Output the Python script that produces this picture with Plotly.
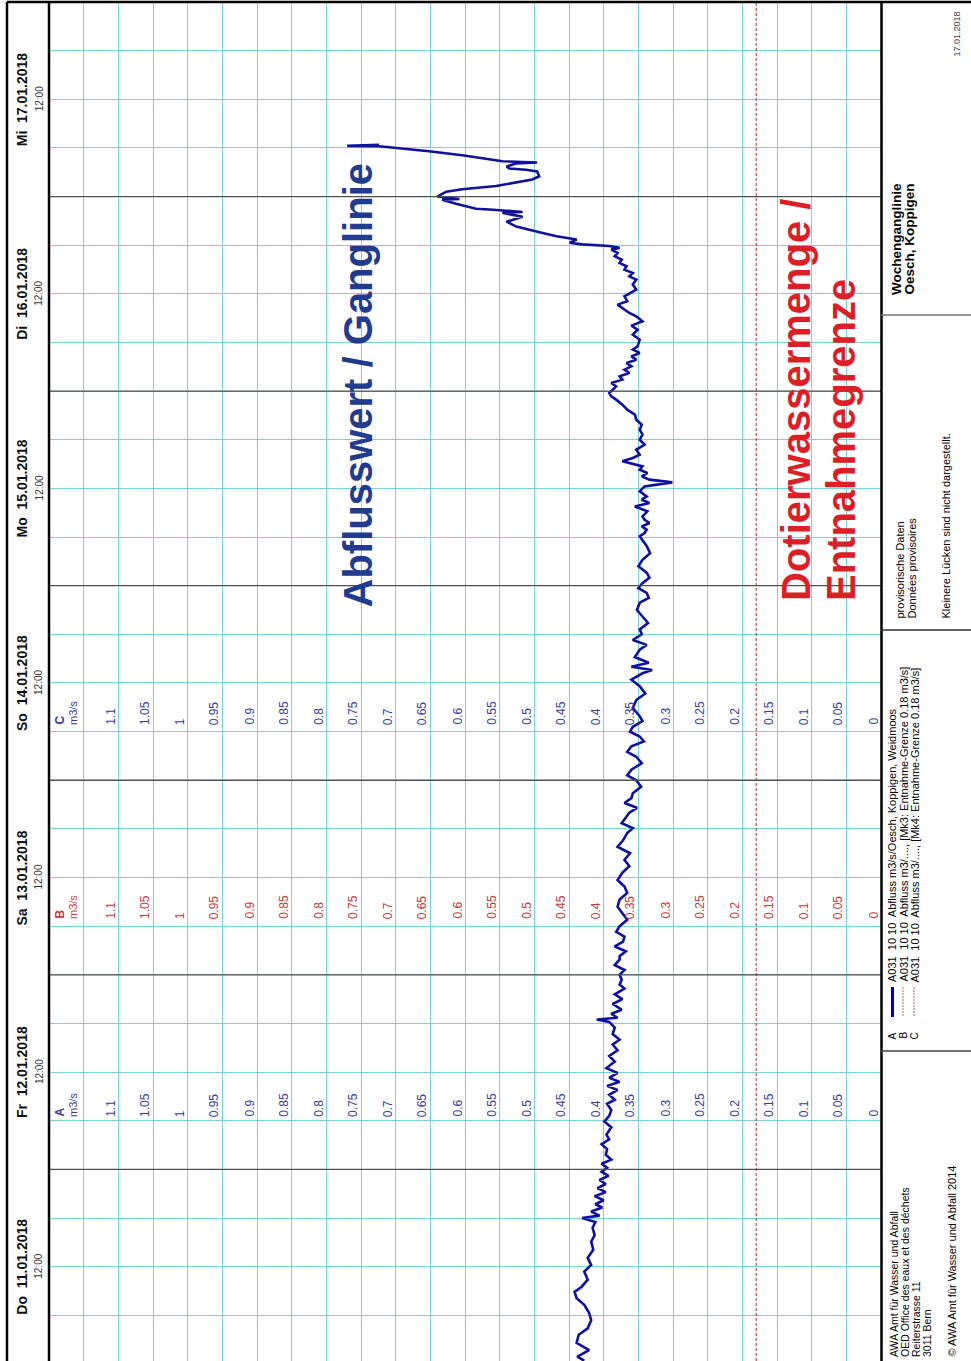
import pandas as pd
import plotly.graph_objects as go

# ---------------- data ----------------
START = pd.Timestamp("2018-01-11 00:00")

# hours since 11.01.2018 00:00
hours_since_start = [
    0.4, 0.9, 1.7, 2.6, 3.6, 4.4, 5.4, 6.3, 7.3, 8.1, 8.9, 9.5, 10.4, 11.4, 12.2, 13.1,
    14.1, 15.1, 15.9, 16.8, 17.5, 18.0, 18.3, 18.8, 19.3, 19.7, 20.2, 20.7, 21.2, 21.7,
    22.2, 22.7, 23.2, 23.7, 24.2, 24.7, 25.2, 25.8, 26.5, 27.1, 27.7, 28.3, 29.2, 29.9,
    30.6, 31.3, 32.1, 32.6, 33.2, 33.8, 34.3, 34.8, 35.3, 35.9, 36.5, 37.3, 38.0, 38.7,
    39.4, 40.0, 40.7, 41.5, 42.2, 42.5, 42.7, 43.2, 43.7, 44.4, 45.0, 45.6, 46.3, 46.8,
    47.4, 48.0,
    48.6, 49.2, 49.9, 50.3, 50.9, 51.5, 52.1, 52.7, 53.3, 54.0, 54.8, 55.6, 56.4, 57.3,
    58.1, 58.9, 59.7, 60.6, 61.4, 62.2, 63.0, 63.8, 64.6, 65.5, 66.1, 66.7, 67.3, 68.0,
    68.6, 69.2, 69.8, 70.4, 71.2, 72.0, 72.6, 73.3, 74.1, 74.9, 75.5, 76.2, 76.8, 77.4,
    78.0, 78.6, 79.3, 79.9, 80.9, 81.9, 82.7, 83.6, 84.4, 85.2, 85.6, 86.0, 86.5, 87.2,
    88.1, 88.7, 89.3, 90.0, 90.6, 91.4, 92.2, 93.0, 93.9, 94.5, 95.1, 95.7, 96.3, 97.0,
    97.6, 98.4, 99.2, 100.0, 100.9,
    102.08, 102.50, 102.91, 103.31, 103.73, 104.14, 104.55, 105.17, 105.78, 106.20,
    106.61, 107.02, 107.63, 108.25, 108.75, 109.08, 109.49, 109.91, 110.31, 110.72,
    111.34, 111.76, 112.16, 112.78, 113.40, 114.01, 114.63, 115.25, 115.86, 116.48,
    117.10, 117.72, 118.33, 118.95, 119.36, 119.77,
    120.59, 121.00, 121.42, 121.83, 122.24, 122.65, 123.06, 123.48, 123.88, 124.29,
    124.71, 125.12, 125.53, 126.35, 126.97, 127.58, 128.08, 128.61, 129.23, 129.64,
    130.26, 130.67, 131.08, 131.70, 132.52, 133.14, 133.76, 134.16, 134.58, 134.99,
    135.40, 135.81, 136.22, 136.63, 137.05, 137.46, 137.67,
    137.9, 138.1, 138.3, 138.7, 139.1, 139.5, 139.9, 140.3, 140.9, 141.5, 142.0, 142.1,
    142.4, 142.5, 143.1, 143.6, 143.7, 144.0, 144.6, 144.9, 145.3, 145.7, 146.1, 146.5,
    147.1, 147.3, 147.45, 147.7, 148.1, 148.2, 148.35, 149.1, 149.6, 150.2, 150.25, 150.4,
]

# discharge A031 Oesch, Koppigen [m3/s]
flow_m3s = [
    0.428, 0.438, 0.421, 0.439, 0.436, 0.423, 0.418, 0.421, 0.428, 0.439, 0.442, 0.432,
    0.423, 0.428, 0.418, 0.423, 0.415, 0.418, 0.413, 0.416, 0.412, 0.431, 0.406, 0.418,
    0.402, 0.412, 0.400, 0.413, 0.397, 0.409, 0.397, 0.406, 0.393, 0.403, 0.395, 0.403,
    0.389, 0.397, 0.395, 0.403, 0.392, 0.396, 0.389, 0.399, 0.392, 0.389, 0.395, 0.384,
    0.392, 0.380, 0.395, 0.377, 0.392, 0.380, 0.396, 0.384, 0.392, 0.380, 0.387, 0.377,
    0.387, 0.384, 0.392, 0.410, 0.380, 0.389, 0.374, 0.387, 0.373, 0.384, 0.370, 0.377,
    0.374, 0.377,
    0.370, 0.384, 0.377, 0.377, 0.368, 0.384, 0.372, 0.370, 0.382, 0.377, 0.366, 0.373,
    0.380, 0.377, 0.366, 0.370, 0.380, 0.373, 0.363, 0.370, 0.362, 0.380, 0.372, 0.366,
    0.358, 0.374, 0.369, 0.363, 0.352, 0.370, 0.360, 0.358, 0.346, 0.353, 0.366, 0.360,
    0.345, 0.353, 0.366, 0.360, 0.342, 0.348, 0.362, 0.358, 0.344, 0.348, 0.358, 0.353,
    0.340, 0.348, 0.360, 0.344, 0.330, 0.360, 0.335, 0.355, 0.348, 0.338, 0.358, 0.345,
    0.348, 0.336, 0.344, 0.352, 0.348, 0.335, 0.338, 0.350, 0.344, 0.334, 0.338, 0.350,
    0.344, 0.333, 0.338,
    0.348, 0.341, 0.338, 0.345, 0.334, 0.341, 0.344, 0.337, 0.355, 0.334,
    0.345, 0.338, 0.348, 0.341, 0.301, 0.334, 0.345, 0.337, 0.348, 0.344,
    0.373, 0.358, 0.348, 0.353, 0.341, 0.348, 0.344, 0.348, 0.345, 0.353,
    0.355, 0.366, 0.373, 0.382, 0.389, 0.392,
    0.382, 0.389, 0.373, 0.377, 0.363, 0.370, 0.360, 0.367, 0.353, 0.360,
    0.348, 0.358, 0.351, 0.348, 0.358, 0.351, 0.360, 0.344, 0.353, 0.363,
    0.374, 0.380, 0.366, 0.370, 0.353, 0.358, 0.353, 0.363, 0.358, 0.370,
    0.367, 0.377, 0.374, 0.384, 0.380, 0.389, 0.377,
    0.392, 0.431, 0.449, 0.439, 0.468, 0.488, 0.507, 0.526, 0.540, 0.517, 0.546, 0.517,
    0.565, 0.584, 0.613, 0.633, 0.608, 0.640, 0.627, 0.604, 0.555, 0.526, 0.503, 0.493,
    0.496, 0.512, 0.536, 0.540, 0.526, 0.496, 0.546, 0.604, 0.652, 0.724, 0.770, 0.724,
]

limit_value = 0.18  # Entnahme-Grenze [m3/s]

day_names = ["Do", "Fr", "Sa", "So", "Mo", "Di", "Mi"]
day_dates = ["11.01.2018", "12.01.2018", "13.01.2018", "14.01.2018",
             "15.01.2018", "16.01.2018", "17.01.2018"]

tick_values = [0, 0.05, 0.1, 0.15, 0.2, 0.25, 0.3, 0.35, 0.4, 0.45, 0.5, 0.55,
               0.6, 0.65, 0.7, 0.75, 0.8, 0.85, 0.9, 0.95, 1.0, 1.05, 1.1]
tick_labels = ["0", "0.05", "0.1", "0.15", "0.2", "0.25", "0.3", "0.35", "0.4", "0.45",
               "0.5", "0.55", "0.6", "0.65", "0.7", "0.75", "0.8", "0.85", "0.9", "0.95",
               "1", "1.05", "1.1"]

scale_columns = ["A", "B", "C"]

# ---------------- layout helpers ----------------
W, H = 971, 1361
PL, PR, PT, PB = 49, 881, 2, 1361
FONT = "Liberation Sans, Arial, sans-serif"


def px(x):
    return (x - PL) / (PR - PL)


def py(y):
    return (PB - y) / (PB - PT)


times = START + pd.to_timedelta(hours_since_start, unit="h")
t_lo = START + pd.Timedelta(minutes=22)
t_hi = START + pd.Timedelta(days=7)

fig = go.Figure()

fig.add_trace(go.Scatter(
    x=[limit_value, limit_value], y=[t_lo, t_hi], mode="lines",
    line=dict(color="#b02828", width=1, dash="3px,2px"), hoverinfo="skip"))

fig.add_trace(go.Scatter(
    x=flow_m3s, y=times, mode="lines",
    line=dict(color="#1010a0", width=2.6),
    name="A"))

grid_col = "#78d4d4"
fig.update_layout(
    width=W, height=H,
    margin=dict(l=PL, r=W - PR, t=PT, b=H - PB, autoexpand=False),
    paper_bgcolor="white", plot_bgcolor="white",
    showlegend=False,
    font=dict(family=FONT),
    xaxis=dict(range=[1.2, 0], tick0=0, dtick=0.05, showgrid=True,
               gridcolor=grid_col, gridwidth=1.4, zeroline=False,
               showticklabels=False, ticks="", showline=False),
    yaxis=dict(type="date", range=[t_lo, t_hi], tick0=START, dtick=6 * 3600 * 1000,
               showgrid=True, gridcolor=grid_col, gridwidth=1.4, zeroline=False,
               showticklabels=False, ticks="", showline=False),
)

shapes = []
# day boundaries
for d in range(1, 7):
    t = START + pd.Timedelta(days=d)
    shapes.append(dict(type="line", xref="paper", yref="y", x0=0, x1=1, y0=t, y1=t,
                       line=dict(color="#505050", width=1.3), layer="above"))


def hline(y, x0, x1, color="black", w=2):
    shapes.append(dict(type="line", xref="paper", yref="paper", x0=px(x0), x1=px(x1),
                       y0=py(y), y1=py(y), line=dict(color=color, width=w)))


def vline(x, y0, y1, color="black", w=2):
    shapes.append(dict(type="line", xref="paper", yref="paper", x0=px(x), x1=px(x),
                       y0=py(y0), y1=py(y1), line=dict(color=color, width=w)))


hline(2, 7, 971, w=2.5)
vline(7, 2, 1361, w=2.5)
vline(49, 2, 1361, w=2.5)
vline(881.5, 2, 1361, w=2.5)
hline(315, 881, 971, color="#707070", w=1.5)
hline(630, 881, 971, color="#303030", w=1.5)
hline(1051, 881, 971, color="#404040", w=1.5)
# legend symbols
vline(892.5, 987, 1017, color="#0000c0", w=3)
shapes.append(dict(type="line", xref="paper", yref="paper", x0=px(903), x1=px(903),
                   y0=py(987), y1=py(1017), line=dict(color="#c87050", width=1, dash="2px,1px")))
shapes.append(dict(type="line", xref="paper", yref="paper", x0=px(914), x1=px(914),
                   y0=py(987), y1=py(1017), line=dict(color="#a06060", width=1, dash="2px,1px")))

annotations = []


def txt(text, x, y, size, color="black", bold=False, xanchor="center", yanchor="bottom",
        angle=-90):
    annotations.append(dict(
        text=text, xref="paper", yref="paper", x=px(x), y=py(y), showarrow=False,
        textangle=angle, xanchor=xanchor, yanchor=yanchor,
        font=dict(size=size, color=color, family=FONT, weight="bold" if bold else "normal"),
        borderpad=0))


# date labels on the left
for i, (dn, dd) in enumerate(zip(day_names, day_dates)):
    t = START + pd.Timedelta(days=i, hours=12)
    annotations.append(dict(text=dn + "\u00a0 " + dd, xref="paper", yref="y", x=px(22), y=t,
                            showarrow=False, textangle=-90, xanchor="center", yanchor="middle",
                            font=dict(size=14, color="#111", family=FONT, weight="bold")))
    annotations.append(dict(text="12:00", xref="paper", yref="y", x=px(39), y=t,
                            showarrow=False, textangle=-90, xanchor="center", yanchor="middle",
                            font=dict(size=10, color="#333", family=FONT)))

# value scales A, B, C
col_bottom = {"A": 1118, "B": 920, "C": 726}
col_color = {"A": "#3a3a98", "B": "#c83838", "C": "#3a3a98"}
for c in scale_columns:
    yb = col_bottom[c]
    for v, lab in zip(tick_values, tick_labels):
        annotations.append(dict(text=lab, xref="x", yref="paper", x=v, y=py(yb),
                                xshift=-8, showarrow=False, textangle=-90,
                                xanchor="center", yanchor="bottom", borderpad=0,
                                font=dict(size=12, color=col_color[c], family=FONT)))
    txt(c, 59, yb, 12, color=col_color[c], bold=True)
    txt("m3/s", 73, yb, 11, color=col_color[c])

# big annotations
txt("Abflusswert / Ganglinie", 357, 609, 40, color="#1f3c8e", bold=True)
txt("Dotierwassermenge /", 796, 602, 40, color="#dc1f26", bold=True)
txt("Entnahmegrenze", 841, 602, 40, color="#dc1f26", bold=True)

# right panel
txt("17.01.2018", 957, 10, 9, color="#444", yanchor="top")
txt("Wochenganglinie", 896, 296, 13.5, bold=True)
txt("Oesch, Koppigen", 909, 296, 13.5, bold=True)
txt("provisorische Daten", 899, 620, 11)
txt("Données provisoires", 911, 620, 11)
txt("Kleinere Lücken sind nicht dargestellt.", 945, 620, 11)
txt("A", 892, 1040, 10)
txt("B", 903, 1040, 10)
txt("C", 914, 1040, 10)
txt("A031  10 10  Abfluss m3/s/Oesch, Koppigen, Weidmoos", 892, 983, 11)
txt("A031  10 10  Abfluss m3/...., [Mk3: Entnahme-Grenze 0.18 m3/s]", 903, 983, 11)
txt("A031  10 10  Abfluss m3/...., [Mk4: Entnahme-Grenze 0.18 m3/s]", 914, 983, 11)
txt("AWA Amt für Wasser und Abfall", 894, 1358, 10.5)
txt("OED Office des eaux et des déchets", 905, 1358, 10.5)
txt("Reiterstrasse 11", 916, 1358, 10.5)
txt("3011 Bern", 927, 1358, 10.5)
txt("© AWA Amt für Wasser und Abfall 2014", 951, 1358, 11)

fig.update_layout(shapes=shapes, annotations=annotations)
fig.write_html("out.html", config={"displayModeBar": False},
               post_script="document.body.style.margin='0px';document.body.style.padding='0px';")
